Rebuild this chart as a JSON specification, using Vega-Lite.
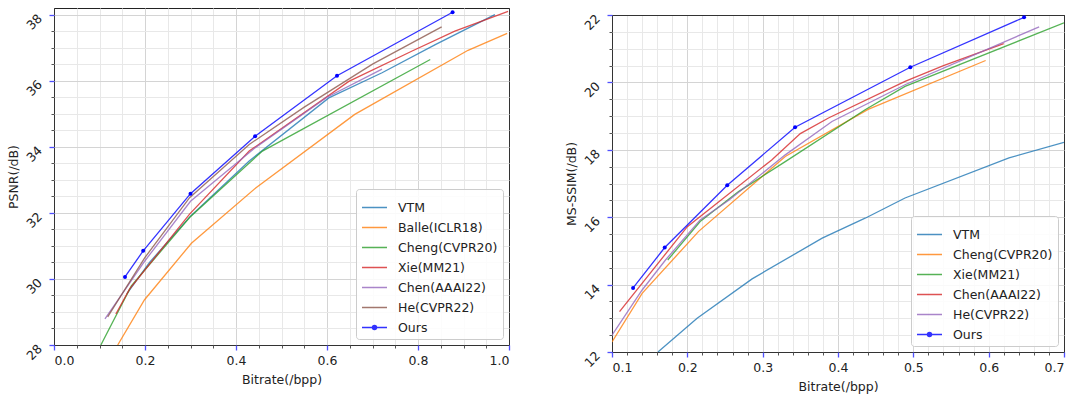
{
  "$schema": "https://vega.github.io/schema/vega-lite/v6.json",
  "padding": {"left": 6, "top": 2, "right": 0, "bottom": 0},
  "spacing": 53,
  "config": {
    "font": "DejaVu Sans",
    "view": {"stroke": "#222", "strokeWidth": 1},
    "axis": {"labelFont": "DejaVu Sans", "labelFontSize": 12.5, "labelColor": "#222", "titleFont": "DejaVu Sans", "titleFontSize": 12.5, "titleFontWeight": "normal", "titleColor": "#222", "domain": false},
    "legend": {"labelFont": "DejaVu Sans", "labelFontSize": 12.5, "labelColor": "#222"}
  },
  "resolve": {"scale": {"color": "independent"}, "legend": {"color": "independent"}},
  "hconcat": [
    {
      "width": 455, "height": 337,
      "data": {"values": [
        {"s": "VTM", "x": 0.16, "y": 29.55}, {"s": "VTM", "x": 0.21, "y": 30.5}, {"s": "VTM", "x": 0.30, "y": 31.9}, {"s": "VTM", "x": 0.429, "y": 33.57}, {"s": "VTM", "x": 0.604, "y": 35.48}, {"s": "VTM", "x": 0.721, "y": 36.24}, {"s": "VTM", "x": 0.838, "y": 37.09}, {"s": "VTM", "x": 0.969, "y": 38.0},
        {"s": "Balle(ICLR18)", "x": 0.14, "y": 28.0}, {"s": "Balle(ICLR18)", "x": 0.199, "y": 29.37}, {"s": "Balle(ICLR18)", "x": 0.302, "y": 31.08}, {"s": "Balle(ICLR18)", "x": 0.444, "y": 32.76}, {"s": "Balle(ICLR18)", "x": 0.661, "y": 34.98}, {"s": "Balle(ICLR18)", "x": 0.91, "y": 36.92}, {"s": "Balle(ICLR18)", "x": 0.996, "y": 37.43},
        {"s": "Cheng(CVPR20)", "x": 0.103, "y": 28.0}, {"s": "Cheng(CVPR20)", "x": 0.17, "y": 29.79}, {"s": "Cheng(CVPR20)", "x": 0.298, "y": 31.86}, {"s": "Cheng(CVPR20)", "x": 0.458, "y": 33.87}, {"s": "Cheng(CVPR20)", "x": 0.827, "y": 36.64},
        {"s": "Xie(MM21)", "x": 0.136, "y": 28.94}, {"s": "Xie(MM21)", "x": 0.166, "y": 29.69}, {"s": "Xie(MM21)", "x": 0.298, "y": 31.96}, {"s": "Xie(MM21)", "x": 0.429, "y": 33.87}, {"s": "Xie(MM21)", "x": 0.648, "y": 35.98}, {"s": "Xie(MM21)", "x": 0.786, "y": 36.89}, {"s": "Xie(MM21)", "x": 0.881, "y": 37.5}, {"s": "Xie(MM21)", "x": 0.998, "y": 38.1},
        {"s": "Chen(AAAI22)", "x": 0.112, "y": 28.79}, {"s": "Chen(AAAI22)", "x": 0.16, "y": 29.75}, {"s": "Chen(AAAI22)", "x": 0.2, "y": 30.55}, {"s": "Chen(AAAI22)", "x": 0.3, "y": 32.35}, {"s": "Chen(AAAI22)", "x": 0.44, "y": 33.95}, {"s": "Chen(AAAI22)", "x": 0.6, "y": 35.5}, {"s": "Chen(AAAI22)", "x": 0.721, "y": 36.35},
        {"s": "He(CVPR22)", "x": 0.118, "y": 28.85}, {"s": "He(CVPR22)", "x": 0.2, "y": 30.65}, {"s": "He(CVPR22)", "x": 0.298, "y": 32.46}, {"s": "He(CVPR22)", "x": 0.429, "y": 34.07}, {"s": "He(CVPR22)", "x": 0.55, "y": 35.2}, {"s": "He(CVPR22)", "x": 0.7, "y": 36.5}, {"s": "He(CVPR22)", "x": 0.852, "y": 37.63},
        {"s": "Ours", "x": 0.156, "y": 30.06}, {"s": "Ours", "x": 0.196, "y": 30.85}, {"s": "Ours", "x": 0.3, "y": 32.58}, {"s": "Ours", "x": 0.442, "y": 34.32}, {"s": "Ours", "x": 0.622, "y": 36.15}, {"s": "Ours", "x": 0.876, "y": 38.07}
      ]},
      "resolve": {"axis": {"x": "independent", "y": "independent"}},
      "layer": [
        {
          "mark": {"type": "line", "strokeWidth": 1.3, "opacity": 0.8, "clip": true},
          "encoding": {
            "x": {"field": "x", "type": "quantitative", "scale": {"domain": [0, 1], "nice": false, "zero": false},
                  "axis": {"orient": "bottom", "values": [0.05, 0.1, 0.15, 0.25, 0.3, 0.35, 0.45, 0.5, 0.55, 0.65, 0.7, 0.75, 0.85, 0.9, 0.95], "labels": false, "grid": true, "gridColor": "#e8e8e8", "tickSize": 3, "tickColor": "#555", "title": null}},
            "y": {"field": "y", "type": "quantitative", "scale": {"domain": [28, 38.2], "nice": false, "zero": false},
                  "axis": {"orient": "left", "values": [28.5, 29, 29.5, 30.5, 31, 31.5, 32.5, 33, 33.5, 34.5, 35, 35.5, 36.5, 37, 37.5], "labels": false, "grid": true, "gridColor": "#e8e8e8", "tickSize": 3, "tickColor": "#555", "title": null}},
            "color": {"field": "s", "type": "nominal",
                      "scale": {"domain": ["VTM", "Balle(ICLR18)", "Cheng(CVPR20)", "Xie(MM21)", "Chen(AAAI22)", "He(CVPR22)", "Ours"], "range": ["#1f77b4", "#ff7f0e", "#2ca02c", "#d62728", "#9467bd", "#8c564b", "#0000ff"]},
                      "legend": {"title": null, "orient": "bottom-right", "offset": 6, "symbolType": "stroke", "symbolSize": 625, "symbolStrokeWidth": 1.5, "rowPadding": -8.3, "padding": 5, "labelOffset": 10, "strokeColor": "#cccccc", "fillColor": "rgba(255,255,255,0.85)", "cornerRadius": 3,
                                 "encoding": {"symbols": {"shape": {"value": {"expr": "datum.value === 'Ours' ? 'M-1,0L1,0M-0.16,0A0.16,0.16,0,1,1,0.16,0A0.16,0.16,0,1,1,-0.16,0Z' : 'stroke'"}}, "fill": {"value": {"expr": "datum.value === 'Ours' ? '#0000ff' : 'transparent'"}}}}}}
          }
        },
        {
          "transform": [{"filter": "datum.s === 'Ours'"}],
          "mark": {"type": "point", "filled": true, "size": 16, "opacity": 1, "color": "#0000ff"},
          "encoding": {
            "x": {"field": "x", "type": "quantitative", "axis": {"orient": "bottom", "values": [0, 0.2, 0.4, 0.6, 0.8, 1.0], "format": ".1f", "grid": true, "gridColor": {"condition": {"test": "datum.value <= 0.001 || datum.value >= 0.999", "value": "#333333"}, "value": "#d4d4d4"}, "tickSize": 5, "tickColor": "#5050ff", "tickWidth": 1.3, "title": "Bitrate(/bpp)", "labelPadding": 4, "titlePadding": 7}},
            "y": {"field": "y", "type": "quantitative", "axis": {"orient": "left", "values": [28, 30, 32, 34, 36, 38], "format": "d", "labelAngle": -45, "labelAlign": "center", "labelBaseline": "middle", "labelPadding": 15, "labelOffset": 7, "grid": true, "gridColor": {"condition": {"test": "datum.value <= 28.01", "value": "#333333"}, "value": "#d4d4d4"}, "tickSize": 5, "tickColor": "#5050ff", "tickWidth": 1.3, "title": "PSNR(/dB)", "titlePadding": 4}}
          }
        }
      ]
    },
    {
      "spacing": 6,
      "bounds": "flush",
      "resolve": {"scale": {"color": "independent"}, "legend": {"color": "independent"}},
      "vconcat": [
        {
          "width": 452, "height": 1,
          "view": {"stroke": null},
          "data": {"values": [{"a": 1}]},
          "mark": {"type": "text", "text": ""}
        },
        {
          "width": 452, "height": 337,
          "data": {"values": [
            {"s": "VTM", "x": 0.161, "y": 12.0}, {"s": "VTM", "x": 0.213, "y": 13.0}, {"s": "VTM", "x": 0.286, "y": 14.17}, {"s": "VTM", "x": 0.379, "y": 15.38}, {"s": "VTM", "x": 0.436, "y": 15.97}, {"s": "VTM", "x": 0.489, "y": 16.57}, {"s": "VTM", "x": 0.627, "y": 17.76}, {"s": "VTM", "x": 0.7, "y": 18.22},
            {"s": "Cheng(CVPR20)", "x": 0.1, "y": 12.3}, {"s": "Cheng(CVPR20)", "x": 0.14, "y": 13.74}, {"s": "Cheng(CVPR20)", "x": 0.215, "y": 15.58}, {"s": "Cheng(CVPR20)", "x": 0.33, "y": 17.8}, {"s": "Cheng(CVPR20)", "x": 0.44, "y": 19.2}, {"s": "Cheng(CVPR20)", "x": 0.596, "y": 20.65},
            {"s": "Xie(MM21)", "x": 0.174, "y": 14.73}, {"s": "Xie(MM21)", "x": 0.217, "y": 15.87}, {"s": "Xie(MM21)", "x": 0.268, "y": 16.76}, {"s": "Xie(MM21)", "x": 0.33, "y": 17.65}, {"s": "Xie(MM21)", "x": 0.436, "y": 19.19}, {"s": "Xie(MM21)", "x": 0.489, "y": 19.88}, {"s": "Xie(MM21)", "x": 0.7, "y": 21.77},
            {"s": "Chen(AAAI22)", "x": 0.11, "y": 13.2}, {"s": "Chen(AAAI22)", "x": 0.2, "y": 15.72}, {"s": "Chen(AAAI22)", "x": 0.312, "y": 17.7}, {"s": "Chen(AAAI22)", "x": 0.35, "y": 18.48}, {"s": "Chen(AAAI22)", "x": 0.388, "y": 18.95}, {"s": "Chen(AAAI22)", "x": 0.489, "y": 20.03}, {"s": "Chen(AAAI22)", "x": 0.54, "y": 20.5}, {"s": "Chen(AAAI22)", "x": 0.62, "y": 21.15},
            {"s": "He(CVPR22)", "x": 0.1, "y": 12.5}, {"s": "He(CVPR22)", "x": 0.14, "y": 13.84}, {"s": "He(CVPR22)", "x": 0.171, "y": 14.73}, {"s": "He(CVPR22)", "x": 0.217, "y": 15.92}, {"s": "He(CVPR22)", "x": 0.255, "y": 16.5}, {"s": "He(CVPR22)", "x": 0.33, "y": 17.85}, {"s": "He(CVPR22)", "x": 0.392, "y": 18.84}, {"s": "He(CVPR22)", "x": 0.489, "y": 19.93}, {"s": "He(CVPR22)", "x": 0.667, "y": 21.65},
            {"s": "Ours", "x": 0.128, "y": 13.9}, {"s": "Ours", "x": 0.17, "y": 15.1}, {"s": "Ours", "x": 0.253, "y": 16.95}, {"s": "Ours", "x": 0.343, "y": 18.67}, {"s": "Ours", "x": 0.496, "y": 20.45}, {"s": "Ours", "x": 0.647, "y": 21.93}
          ]},
          "resolve": {"axis": {"x": "independent", "y": "independent"}},
          "layer": [
            {
              "mark": {"type": "line", "strokeWidth": 1.3, "opacity": 0.8, "clip": true},
              "encoding": {
                "x": {"field": "x", "type": "quantitative", "scale": {"domain": [0.1, 0.7], "nice": false, "zero": false},
                      "axis": {"orient": "bottom", "values": [0.12, 0.14, 0.16, 0.18, 0.22, 0.24, 0.26, 0.28, 0.32, 0.34, 0.36, 0.38, 0.42, 0.44, 0.46, 0.48, 0.52, 0.54, 0.56, 0.58, 0.62, 0.64, 0.66, 0.68], "labels": false, "grid": true, "gridColor": "#e8e8e8", "tickSize": 3, "tickColor": "#555", "title": null}},
                "y": {"field": "y", "type": "quantitative", "scale": {"domain": [12, 22], "nice": false, "zero": false},
                      "axis": {"orient": "left", "values": [12.5, 13, 13.5, 14.5, 15, 15.5, 16.5, 17, 17.5, 18.5, 19, 19.5, 20.5, 21, 21.5], "labels": false, "grid": true, "gridColor": "#e8e8e8", "tickSize": 3, "tickColor": "#555", "title": null}},
                "color": {"field": "s", "type": "nominal",
                          "scale": {"domain": ["VTM", "Cheng(CVPR20)", "Xie(MM21)", "Chen(AAAI22)", "He(CVPR22)", "Ours"], "range": ["#1f77b4", "#ff7f0e", "#2ca02c", "#d62728", "#9467bd", "#0000ff"]},
                          "legend": {"title": null, "orient": "bottom-right", "offset": 6, "symbolType": "stroke", "symbolSize": 625, "symbolStrokeWidth": 1.5, "rowPadding": -8.3, "padding": 5, "labelOffset": 10, "strokeColor": "#cccccc", "fillColor": "rgba(255,255,255,0.85)", "cornerRadius": 3,
                                     "encoding": {"symbols": {"shape": {"value": {"expr": "datum.value === 'Ours' ? 'M-1,0L1,0M-0.16,0A0.16,0.16,0,1,1,0.16,0A0.16,0.16,0,1,1,-0.16,0Z' : 'stroke'"}}, "fill": {"value": {"expr": "datum.value === 'Ours' ? '#0000ff' : 'transparent'"}}}}}}
              }
            },
            {
              "transform": [{"filter": "datum.s === 'Ours'"}],
              "mark": {"type": "point", "filled": true, "size": 16, "opacity": 1, "color": "#0000ff"},
              "encoding": {
                "x": {"field": "x", "type": "quantitative", "axis": {"orient": "bottom", "values": [0.1, 0.2, 0.3, 0.4, 0.5, 0.6, 0.7], "format": ".1f", "grid": true, "gridColor": {"condition": {"test": "datum.value <= 0.101 || datum.value >= 0.699", "value": "#333333"}, "value": "#d4d4d4"}, "tickSize": 5, "tickColor": "#5050ff", "tickWidth": 1.3, "title": "Bitrate(/bpp)", "labelPadding": 4, "titlePadding": 7}},
                "y": {"field": "y", "type": "quantitative", "axis": {"orient": "left", "values": [12, 14, 16, 18, 20, 22], "format": "d", "labelAngle": -45, "labelAlign": "center", "labelBaseline": "middle", "labelPadding": 15, "labelOffset": 7, "grid": true, "gridColor": {"condition": {"test": "datum.value <= 12.01 || datum.value >= 21.99", "value": "#333333"}, "value": "#d4d4d4"}, "tickSize": 5, "tickColor": "#5050ff", "tickWidth": 1.3, "title": "MS-SSIM(/dB)", "titlePadding": 4}}
              }
            }
          ]
        }
      ]
    }
  ]
}
